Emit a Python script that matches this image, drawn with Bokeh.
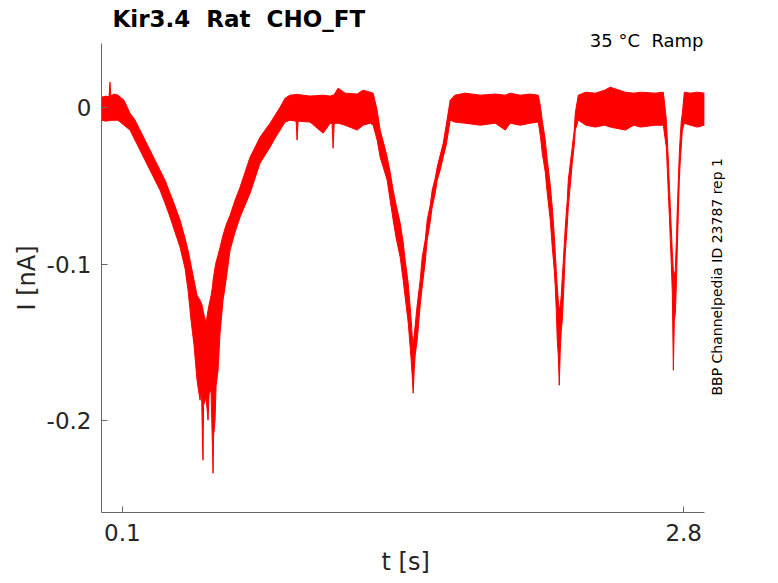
import math
from bokeh.plotting import figure
from bokeh.models import Range1d, FixedTicker, Label, Title, ColumnDataSource
from bokeh.embed import file_html
from bokeh.resources import INLINE

# ---- data (t in s, current envelope in nA) ----
# first ramp: baseline, slow inward dip, return to baseline
t_ramp1 = [0.000, 0.0216, 0.0360, 0.0408, 0.0450, 0.0601, 0.0793, 0.1082, 0.1371, 0.1611,
           0.1852, 0.2092, 0.2333, 0.2574, 0.2814, 0.3055, 0.3296, 0.3536, 0.3777, 0.4017,
           0.4162, 0.4306, 0.4450, 0.4595, 0.4739, 0.4811, 0.4859, 0.4883, 0.4907, 0.5028,
           0.5124, 0.5172, 0.5268, 0.5341, 0.5365, 0.5389, 0.5461, 0.5509, 0.5606, 0.5702,
           0.5846, 0.5990, 0.6183, 0.6423, 0.6664, 0.6905, 0.7145, 0.7386, 0.7626, 0.7867,
           0.8108, 0.8348, 0.8589, 0.8830, 0.9070]
hi_ramp1 = [0.0068, 0.0075, 0.0070, 0.0164, 0.0075, 0.0088, 0.0081, 0.0049, -0.0034, -0.0078,
            -0.0142, -0.0206, -0.0270, -0.0334, -0.0398, -0.0462, -0.0545, -0.0628, -0.0717, -0.0832,
            -0.0909, -0.1005, -0.1101, -0.1197, -0.1229, -0.1250, -0.1270, -0.1293, -0.1310, -0.1376,
            -0.1293, -0.1260, -0.1200, -0.1140, -0.1101, -0.1080, -0.1020, -0.0986, -0.0941, -0.0890,
            -0.0813, -0.0749, -0.0686, -0.0590, -0.0507, -0.0411, -0.0315, -0.0251, -0.0187, -0.0142,
            -0.0098, -0.0047, 0.0004, 0.0062, 0.0081]
lo_ramp1 = [-0.0079, -0.0085, -0.0082, -0.0080, -0.0080, -0.0079, -0.0079, -0.0111, -0.0142, -0.0206,
            -0.0270, -0.0334, -0.0398, -0.0462, -0.0526, -0.0609, -0.0698, -0.0794, -0.0890, -0.1025,
            -0.1164, -0.1357, -0.1516, -0.1740, -0.1868, -0.1800, -0.2160, -0.2251, -0.1900, -0.1850,
            -0.1995, -0.1830, -0.1800, -0.2200, -0.2334, -0.2100, -0.1995, -0.1780, -0.1676, -0.1440,
            -0.1229, -0.1101, -0.0909, -0.0794, -0.0698, -0.0622, -0.0545, -0.0449, -0.0353, -0.0302,
            -0.0251, -0.0194, -0.0142, -0.0091, -0.0079]

t_base1 = [0.9360, 0.9407, 0.9455, 1.0033, 1.0658, 1.1000, 1.1090, 1.1140, 1.1190, 1.1380,
           1.1717, 1.2294, 1.2583, 1.2920, 1.3064]
hi_base1 = [0.0085, 0.0088, 0.0085, 0.0075, 0.0081, 0.0075, 0.0080, 0.0081, 0.0085, 0.0126,
            0.0094, 0.0088, 0.0113, 0.0100, 0.0094]
lo_base1 = [-0.0085, -0.0206, -0.0085, -0.0091, -0.0162, -0.0098, -0.0100, -0.0258, -0.0100, -0.0098,
            -0.0111, -0.0142, -0.0111, -0.0098, -0.0111]

t_ramp2 = [1.3257, 1.3401, 1.3593, 1.3738, 1.3882, 1.4027, 1.4171, 1.4364, 1.4508, 1.4605,
           1.4749, 1.4845, 1.4893, 1.4941, 1.4990, 1.5038, 1.5086, 1.5182, 1.5327, 1.5423,
           1.5567, 1.5664, 1.5808, 1.5904, 1.6049, 1.6145, 1.6289, 1.6434, 1.6578, 1.6770]
hi_ramp2 = [-0.0015, -0.0142, -0.0238, -0.0315, -0.0411, -0.0526, -0.0622, -0.0736, -0.0858, -0.0973,
            -0.1120, -0.1274, -0.1357, -0.1453, -0.1516, -0.1453, -0.1389, -0.1261, -0.1101, -0.0954,
            -0.0845, -0.0717, -0.0622, -0.0526, -0.0449, -0.0379, -0.0302, -0.0226, -0.0111, 0.0049]
lo_ramp2 = [-0.0206, -0.0315, -0.0398, -0.0462, -0.0590, -0.0717, -0.0832, -0.0954, -0.1101, -0.1210,
            -0.1370, -0.1529, -0.1612, -0.1708, -0.1823, -0.1676, -0.1580, -0.1485, -0.1261, -0.1145,
            -0.0986, -0.0845, -0.0730, -0.0634, -0.0545, -0.0462, -0.0398, -0.0315, -0.0238, -0.0079]

t_base2 = [1.7000, 1.7492, 1.8214, 1.8936, 1.9417, 1.9657, 2.0138, 2.0620, 2.1005]
hi_base2 = [0.0081, 0.0094, 0.0081, 0.0088, 0.0081, 0.0094, 0.0081, 0.0088, 0.0081]
lo_base2 = [-0.0091, -0.0098, -0.0111, -0.0098, -0.0142, -0.0098, -0.0111, -0.0098, -0.0091]

t_ramp3 = [2.1101, 2.1197, 2.1342, 2.1438, 2.1582, 2.1678, 2.1775, 2.1823, 2.1871, 2.1919,
           2.1967, 2.2015, 2.2064, 2.2112, 2.2160, 2.2208, 2.2304, 2.2400, 2.2449, 2.2545,
           2.2641, 2.2737, 2.2785, 2.2930]
hi_ramp3 = [0.0017, -0.0079, -0.0206, -0.0334, -0.0494, -0.0634, -0.0813, -0.0928, -0.1037, -0.1145,
            -0.1229, -0.1293, -0.1261, -0.1197, -0.1082, -0.0986, -0.0762, -0.0590, -0.0462, -0.0353,
            -0.0251, -0.0142, -0.0034, 0.0081]
lo_ramp3 = [-0.0174, -0.0289, -0.0411, -0.0545, -0.0717, -0.0890, -0.1037, -0.1145, -0.1293, -0.1485,
            -0.1580, -0.1772, -0.1548, -0.1421, -0.1357, -0.1229, -0.0928, -0.0749, -0.0634, -0.0494,
            -0.0353, -0.0238, -0.0142, -0.0079]

t_base3 = [2.3300, 2.3748, 2.4200, 2.4470, 2.5192, 2.5600, 2.5914, 2.6635, 2.7020]
hi_base3 = [0.0100, 0.0094, 0.0113, 0.0132, 0.0100, 0.0094, 0.0100, 0.0094, 0.0100]
lo_base3 = [-0.0111, -0.0123, -0.0111, -0.0123, -0.0142, -0.0111, -0.0123, -0.0111, -0.0111]

t_ramp4 = [2.7116, 2.7165, 2.7213, 2.7261, 2.7309, 2.7357, 2.7405, 2.7453, 2.7502, 2.7550,
           2.7598, 2.7646, 2.7694, 2.7742, 2.7790, 2.7838, 2.7887, 2.7935, 2.8031, 2.8320,
           2.8657, 2.8994]
hi_ramp4 = [-0.0015, -0.0079, -0.0206, -0.0334, -0.0494, -0.0634, -0.0781, -0.0928, -0.1037, -0.1069,
            -0.1037, -0.0845, -0.0634, -0.0462, -0.0289, -0.0174, -0.0079, -0.0034, 0.0100, 0.0094,
            0.0100, 0.0094]
lo_ramp4 = [-0.0206, -0.0251, -0.0398, -0.0545, -0.0686, -0.0845, -0.1005, -0.1184, -0.1676, -0.1357,
            -0.1312, -0.1133, -0.0890, -0.0673, -0.0462, -0.0334, -0.0238, -0.0142, -0.0098, -0.0111,
            -0.0123, -0.0111]

x_ticks = [0.1, 2.8]
y_ticks = [-0.2, -0.1, 0.0]
y_tick_labels = {-0.2: "-0.2", -0.1: "-0.1", 0.0: "0"}
x_axis_span = (0.0, 2.9)
y_axis_span = (-0.2585, 0.0411)

# double spaces kept visible with a no-break space
title_text = "Kir3.4 \u00a0Rat \u00a0CHO_FT"
cond_text = "35 °C \u00a0Ramp"
id_text = "BBP Channelpedia ID 23787 rep 1"
xlabel = "t [s]"
ylabel = "I [nA]"

t_all = t_ramp1 + t_base1 + t_ramp2 + t_base2 + t_ramp3 + t_base3 + t_ramp4
hi_all = hi_ramp1 + hi_base1 + hi_ramp2 + hi_base2 + hi_ramp3 + hi_base3 + hi_ramp4
lo_all = lo_ramp1 + lo_base1 + lo_ramp2 + lo_base2 + lo_ramp3 + lo_base3 + lo_ramp4
src = ColumnDataSource(dict(t=t_all, hi=hi_all, lo=lo_all))

FONT = "DejaVu Sans"
AX = "#666666"
TXT = "#262626"

# frame: left 101, top 2, right 770, bottom 512 (px); the axes only span the
# visible data box, the extra frame room carries the annotation texts
p = figure(width=776, height=583, output_backend="svg", toolbar_location=None,
           x_range=Range1d(0, 3.2174), y_range=Range1d(-0.2585, 0.0673),
           min_border_left=101, min_border_right=6, min_border_top=2, min_border_bottom=71)
p.outline_line_color = None
p.grid.visible = False
p.background_fill_color = "white"
p.border_fill_color = "white"

p.varea(x="t", y1="lo", y2="hi", source=src, fill_color="#ff0000")
p.line(x="t", y="hi", source=src, line_color="#ff0000", line_width=1)
p.line(x="t", y="lo", source=src, line_color="#ff0000", line_width=1)

for ax in (p.xaxis[0], p.yaxis[0]):
    ax.axis_line_color = AX
    ax.major_tick_line_color = AX
    ax.minor_tick_line_color = None
    ax.major_tick_in = 6
    ax.major_tick_out = 0
    ax.major_label_text_font = FONT
    ax.major_label_text_font_size = "23px"
    ax.major_label_text_color = TXT

p.xaxis[0].ticker = FixedTicker(ticks=x_ticks)
p.xaxis[0].bounds = x_axis_span
p.xaxis[0].major_label_standoff = 11

p.yaxis[0].ticker = FixedTicker(ticks=y_ticks)
p.yaxis[0].bounds = y_axis_span
p.yaxis[0].major_label_overrides = y_tick_labels
p.yaxis[0].major_label_standoff = 10

# axis titles centred on the visible axes
p.add_layout(Title(text=xlabel, align="left", offset=280, standoff=9, vertical_align="top",
                   text_font=FONT, text_font_size="24px", text_font_style="normal",
                   text_color=TXT), "below")
p.add_layout(Title(text=ylabel, align="left", offset=202, standoff=6, vertical_align="bottom",
                   text_font=FONT, text_font_size="24px", text_font_style="normal",
                   text_color=TXT), "left")

p.add_layout(Label(x=0.0529, y=0.0570, text=title_text, text_font=FONT, text_font_size="23px",
                   text_font_style="bold", text_color="black", text_align="left",
                   text_baseline="alphabetic"))
p.add_layout(Label(x=2.8952, y=0.0430, text=cond_text, text_font=FONT, text_font_size="18px",
                   text_color="black", text_align="right", text_baseline="alphabetic"))
p.add_layout(Label(x=2.958, y=-0.1838, text=id_text, text_font=FONT, text_font_size="14px",
                   text_color="black", text_align="left", text_baseline="alphabetic",
                   angle=math.pi / 2))

open("out.html", "w").write(file_html(p, INLINE))
